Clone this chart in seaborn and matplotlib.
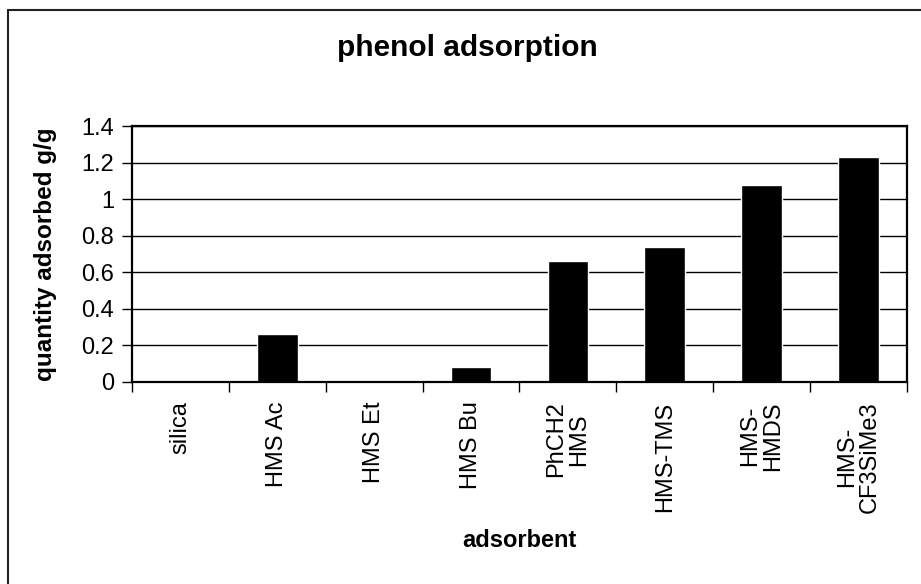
import matplotlib
matplotlib.use('Agg')
import matplotlib.pyplot as plt
import seaborn as sns
from matplotlib.lines import Line2D
from matplotlib.ticker import FixedLocator, FuncFormatter

# Data
adsorbents = ['silica', 'HMS Ac', 'HMS Et', 'HMS Bu', 'PhCH2\nHMS',
              'HMS-TMS', 'HMS-\nHMDS', 'HMS-\nCF3SiMe3']
quantity = [0.0, 0.26, 0.0, 0.08, 0.66, 0.74, 1.08, 1.23]
y_ticks = [0, 0.2, 0.4, 0.6, 0.8, 1.0, 1.2, 1.4]

sns.set_style('white')
plt.rcParams['font.family'] = ['Liberation Sans', 'DejaVu Sans']
plt.rcParams['text.color'] = 'black'
plt.rcParams['xtick.color'] = 'black'
plt.rcParams['ytick.color'] = 'black'

fig = plt.figure(figsize=(9.21, 5.84), dpi=100)
ax = fig.add_axes([0.1433, 0.3459, 0.8415, 0.4383])

sns.barplot(x=adsorbents, y=quantity, color='black', saturation=1,
            width=0.42, ax=ax)

ax.set_xlim(-0.5, len(adsorbents) - 0.5)
ax.set_ylim(0, 1.4)
ax.set_yticks(y_ticks)
ax.yaxis.set_major_formatter(FuncFormatter(lambda v, p: f'{v:g}'))
ax.yaxis.grid(True, color='black', linewidth=1)
ax.set_axisbelow(True)

# category ticks sit between the bars, like Excel
ax.set_xticks(range(len(adsorbents)), adsorbents, rotation=90, ha='center', va='top',
              multialignment='center', linespacing=1.08, fontsize=17, color='black')
ax.xaxis.set_minor_locator(FixedLocator([i - 0.5 for i in range(len(adsorbents) + 1)]))
ax.tick_params(axis='x', which='major', length=0, pad=14)
ax.tick_params(axis='x', which='minor', length=7, width=1, color='black', direction='out', bottom=True)
ax.tick_params(axis='y', length=7, width=1, color='black', direction='out', left=True, pad=6,
               labelsize=17, labelcolor='black')

for side in ['left', 'bottom', 'top', 'right']:
    ax.spines[side].set_visible(True)
    ax.spines[side].set_color('black')
    ax.spines[side].set_linewidth(1.6)

ax.set_xlabel('')
ax.set_ylabel('')
fig.text(0.049, 0.5646, 'quantity adsorbed g/g', rotation=90, ha='center', va='center',
         fontsize=17.5, fontweight='bold', color='black')
fig.text(0.5637, 0.075, 'adsorbent', ha='center', va='center', fontsize=17,
         fontweight='bold', color='black')
fig.text(0.508, 0.918, 'phenol adsorption', ha='center', va='center', fontsize=21.5,
         fontweight='bold', color='black')

# chart area border (left and top edges show in the crop)
fig.add_artist(Line2D([8 / 921, 8 / 921], [0, 1 - 10 / 584], transform=fig.transFigure,
                      color='#222222', linewidth=1.5))
fig.add_artist(Line2D([8 / 921, 1], [1 - 10 / 584, 1 - 10 / 584], transform=fig.transFigure,
                      color='#222222', linewidth=1.5))

fig.savefig('out.png', dpi=100)
